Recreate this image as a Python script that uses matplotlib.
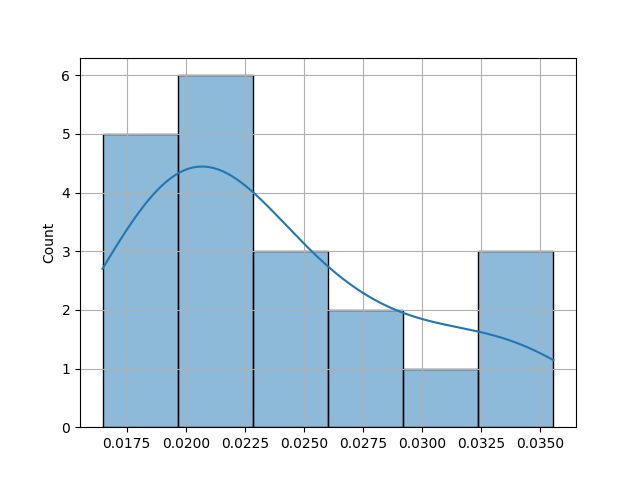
import matplotlib
matplotlib.use("Agg")
import matplotlib.pyplot as plt
import numpy as np
import seaborn as sns

# sample values, grouped by the six histogram bins (counts 5, 6, 3, 2, 1, 3)
bin1 = [0.01648, 0.0171, 0.0179, 0.0187, 0.0194]
bin2 = [0.0200, 0.0204, 0.0208, 0.0211, 0.0215, 0.0220]
bin3 = [0.0233, 0.0242, 0.0253]
bin4 = [0.0268, 0.0283]
bin5 = [0.0300]
bin6 = [0.0328, 0.0337, 0.03555]

values = np.array(bin1 + bin2 + bin3 + bin4 + bin5 + bin6)

fig, ax = plt.subplots(figsize=(6.4, 4.8), dpi=100)
sns.histplot(values, kde=True, ax=ax)
ax.grid(True)
fig.savefig("out.png")
